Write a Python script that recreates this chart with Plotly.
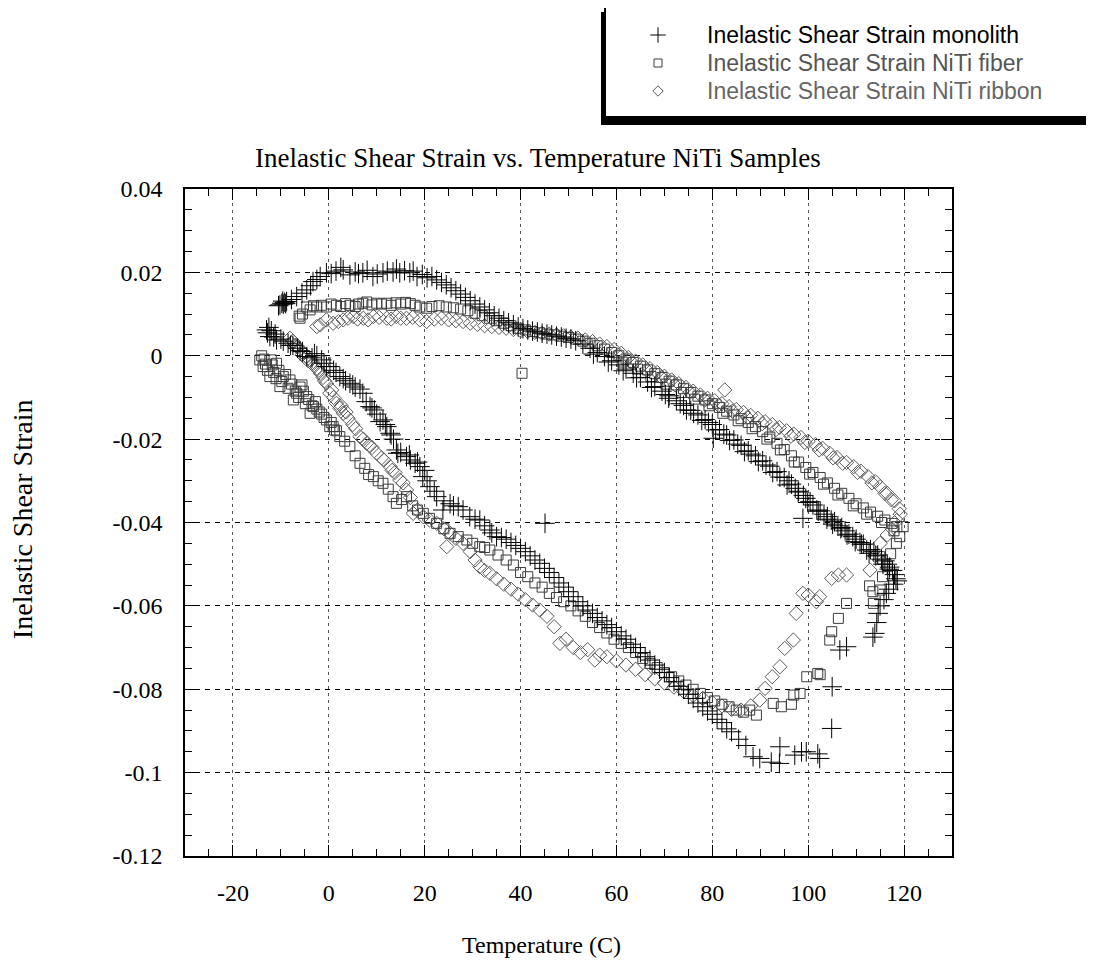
import plotly.graph_objects as go

# ---------------- data ----------------
x_tick_vals = [-20, 0, 20, 40, 60, 80, 100, 120]
x_tick_text = ["-20", "0", "20", "40", "60", "80", "100", "120"]
y_tick_vals = [0.04, 0.02, 0.0, -0.02, -0.04, -0.06, -0.08, -0.1, -0.12]
y_tick_text = ["0.04", "0.02", "0", "-0.02", "-0.04", "-0.06", "-0.08", "-0.1", "-0.12"]

series_names = ["Inelastic Shear Strain monolith",
                "Inelastic Shear Strain NiTi fiber",
                "Inelastic Shear Strain NiTi ribbon"]

# monolith (+)
mono_upper_x = [-10.5, -10.2, -9.8, -9.6, -9.5, -9.2, -9.0, -8.8,
                -7.8, -6.7, -5.6, -4.6, -3.8, -3.3, -2.5, -1.8, -0.5,
                0.5, 1.5, 2.5, 3.0, 4.4, 5.5, 6.2, 7.1, 8.0, 9.2,
                10.1, 11.3, 12.2, 13.4, 14.1, 14.8, 15.8, 16.9, 17.6, 18.4, 19.5,
                20.5, 21.5, 22.5, 23.5, 24.5, 25.5, 26.5, 27.5, 28.5, 29.5, 30.5,
                31.5, 32.5, 33.5, 34.5, 35.5, 36.5, 37.5, 38.5, 39.5, 40.5,
                41.5, 42.5, 43.5, 44.5, 45.5, 46.5, 47.5, 48.5, 49.5, 50.5]
mono_upper_y = [0.0120, 0.0122, 0.0126, 0.0131, 0.0124, 0.0128, 0.0125, 0.0130,
                0.0135, 0.0142, 0.0150, 0.0158, 0.0168, 0.0178, 0.0183, 0.0190, 0.0199,
                0.0197, 0.0203, 0.0212, 0.0206, 0.0194, 0.0201, 0.0197, 0.0199, 0.0205, 0.0190,
                0.0196, 0.0199, 0.0203, 0.0201, 0.0208, 0.0199, 0.0204, 0.0199, 0.0203, 0.0190, 0.0195,
                0.0187, 0.0190, 0.0182, 0.0176, 0.0170, 0.0163, 0.0156, 0.0148, 0.0140, 0.0132, 0.0124,
                0.0117, 0.0110, 0.0103, 0.0096, 0.0090, 0.0084, 0.0079, 0.0074, 0.0069, 0.0065,
                0.0062, 0.0059, 0.0057, 0.0054, 0.0052, 0.0050, 0.0047, 0.0045, 0.0042, 0.0040]

mono_mid_x = [51.5, 53, 54.5, 56, 57.5, 59, 60.5, 62, 63.5, 65, 66.5, 68, 69.5, 71,
              72.5, 74, 75.5, 77, 78.5, 80, 81.5, 83, 84.5, 86, 87.5, 89, 90.5, 92,
              93.5, 95, 96.5, 98, 99.5, 101, 102.5, 104, 105.5, 107, 108.5, 110,
              111.5, 113, 114.5, 116, 117, 118]
mono_mid_y = [0.0036, 0.0028, 0.0018, 0.0008, -0.0002, -0.0012, -0.0022, -0.0032, -0.0042,
              -0.0052, -0.0063, -0.0074, -0.0085, -0.0096, -0.0108, -0.0119, -0.0131, -0.0142,
              -0.0153, -0.0165, -0.0177, -0.0190, -0.0202, -0.0215, -0.0228, -0.0240, -0.0252,
              -0.0265, -0.0278, -0.0292, -0.0308, -0.0325, -0.0342, -0.0358, -0.0372, -0.0386,
              -0.0398, -0.0412, -0.0428, -0.0440, -0.0452, -0.0465, -0.0478, -0.0492, -0.0507,
              -0.0525]

mono_dense_x = [70.2, 73.3, 76.1, 79.2, 82.4, 85.3, 88.1, 91.2, 94.1, 96, 97.3, 99, 100.4,
                101.8, 103.3, 104.8, 106.2, 107.7, 109.3, 110.8, 112.2, 113.7, 115.3, 116.5, 117.6]
mono_dense_y = [-0.0093, -0.0115, -0.0138, -0.0160, -0.0188, -0.0212, -0.0236, -0.0262,
                -0.0291, -0.0300, -0.0318, -0.0335, -0.0350, -0.0370, -0.0380, -0.0394,
                -0.0408, -0.0420, -0.0434, -0.0448, -0.0466, -0.0470, -0.0488, -0.0500, -0.0515]

mono_band2_x = [55.2, 58.3, 61.4, 64.2, 67.3, 70.9, 74.6, 77.8, 80.7, 83.6, 86.7, 89.6, 92.6, 95.6,
                97.9, 99.9, 102.1, 103.9, 105.1, 106.8, 108.1, 109.8, 111.1, 112.7, 114.1, 115.6,
                116.9, 118.6]
mono_band2_y = [0.0004, -0.0015, -0.0036, -0.0053, -0.0076, -0.0102, -0.0130, -0.0155, -0.0178,
                -0.0203, -0.0230, -0.0254, -0.0280, -0.0310, -0.0327, -0.0352, -0.0373, -0.0392,
                -0.0404, -0.0415, -0.0430, -0.0446, -0.0452, -0.0474, -0.0480, -0.0500, -0.0512,
                -0.0540]

mono_turn_x = [118.3, 117.8, 116.8, 116.3, 115.8, 115.0, 114.6, 114.3, 113.5, 113.9,
               108, 106.6, 105, 104.9, 102.4, 102, 99.6, 98.6, 97.2, 94.1, 94, 92.3,
               89.9, 88.5, 98.9, 80.2]
mono_turn_y = [-0.0535, -0.0548, -0.0560, -0.0570, -0.0585, -0.0600, -0.0618, -0.0640,
               -0.0675, -0.0666, -0.0698, -0.0706, -0.0794, -0.0894, -0.0966, -0.0955,
               -0.0950, -0.0950, -0.0958, -0.0938, -0.0978, -0.0975, -0.0966, -0.0962,
               -0.0390, -0.0198]

mono_lower_x = [87, 85.5, 84, 83, 82, 81, 80, 79, 78, 77,
                76, 75, 74, 73, 72, 71, 70, 69, 68, 67, 66, 65, 64, 63, 62, 61, 60,
                59, 58, 57, 56, 55, 54, 53, 52, 51, 50, 49, 48, 47, 46, 45,
                45.1,
                44, 43, 42, 41, 40, 39, 38, 37, 36, 35, 34,
                33.6, 32.5, 31.5, 30.5, 29.4, 28, 27, 26, 25.3, 24,
                23.8, 22.5, 21.1, 20.5, 19.6, 19, 18, 17, 16.2, 15,
                14.4, 14.1, 13.5, 12.8, 12.1, 11.3, 10.7, 10, 9.5, 8.6,
                7.8, 7.1, 6.5, 5.5, 4.4, 3.5, 2.3, 1.5, 0.24, -0.5,
                -1.5, -2.5, -3.5, -4.6, -5.5, -6.5, -7.5, -8.5, -9.5, -10.9,
                -11.5, -12.3, -12.8, -13, -12.5]
mono_lower_y = [-0.0935, -0.0920, -0.0902, -0.0895, -0.0880, -0.0872, -0.0860, -0.0852, -0.0842, -0.0833,
                -0.0822, -0.0812, -0.0800, -0.0793, -0.0782, -0.0772, -0.0760, -0.0752, -0.0742,
                -0.0730, -0.0722, -0.0712, -0.0700, -0.0692, -0.0680, -0.0672, -0.0662,
                -0.0652, -0.0645, -0.0636, -0.0628, -0.0618, -0.0610, -0.0600, -0.0590, -0.0578,
                -0.0566, -0.0555, -0.0545, -0.0532, -0.0520, -0.0510,
                -0.0402,
                -0.0498, -0.0490, -0.0480, -0.0470, -0.0462, -0.0455, -0.0448, -0.0440, -0.0436,
                -0.0434, -0.0425,
                -0.0418, -0.0408, -0.0394, -0.0392, -0.0386, -0.0370, -0.0362, -0.0360, -0.0355, -0.0348,
                -0.0370, -0.0338, -0.0314, -0.0300, -0.0290, -0.0266, -0.0258, -0.0250, -0.0242, -0.0232,
                -0.0234, -0.0226, -0.0200, -0.0186, -0.0170, -0.0154, -0.0158, -0.0140, -0.0130, -0.0122,
                -0.0110, -0.0090, -0.0080, -0.0075, -0.0066, -0.0060, -0.0050, -0.0040, -0.0026, -0.0026,
                -0.0010, 0.0000, -0.0005, -0.0002, 0.0010, 0.0018, 0.0025, 0.0030, 0.0035, 0.0038,
                0.0045, 0.0046, 0.0055, 0.0062, 0.0068]

mono_left2_x = [-12.0, -11.2, -10.0, -8.0, -6.0, -3.0, -1.0, 1.0, 3.0, 5.0, 9.0, 11.8, 13.0,
                16.8, 18.5, 20.0, 22.0]
mono_left2_y = [0.0060, 0.0052, 0.0040, 0.0025, 0.0012, 0.0005, -0.0018, -0.0035, -0.0055,
                -0.0070, -0.0125, -0.0165, -0.0190, -0.0238, -0.0255, -0.0275, -0.0325]

# NiTi fiber (squares)
fiber_upper_x = [-6.2, -6, -5.5, -4.6, -3.9, -3.2, -2.5, -1.5, -0.5,
                 0.5, 1.6, 2.5, 3.5, 4.4, 5.5, 6.2, 7.1, 7.9, 9,
                 10, 11, 12.1, 13, 14, 15, 16, 17, 18, 19, 20.4,
                 21.5, 23, 24.5, 26, 27.5, 29, 30.5, 32, 33.5, 35, 36.5, 38, 39.5,
                 40.3,
                 41, 42.5, 44, 45.5, 47, 48.5, 50, 51.5, 53, 54.5, 56, 57.5, 59,
                 60.5, 62, 63.5, 65, 66.5, 68, 69.5, 71, 72.5, 74, 75.5, 77, 78.5,
                 80, 81.5, 83, 84.5, 86, 87.5, 89, 90.5, 92, 93.5, 95, 96.5, 98,
                 99.5, 101, 102.5, 104, 105.5, 107, 108.5, 110, 111.5, 113, 114.5, 116, 117.5,
                 118.5, 119.8, 119.1, 118.4]
fiber_upper_y = [0.0095, 0.0090, 0.0100, 0.0117, 0.0110, 0.0120, 0.0117, 0.0121, 0.0117,
                 0.0124, 0.0121, 0.0118, 0.0125, 0.0121, 0.0118, 0.0124, 0.0126, 0.0129, 0.0122,
                 0.0126, 0.0124, 0.0126, 0.0121, 0.0127, 0.0124, 0.0128, 0.0125, 0.0121, 0.0117, 0.0114,
                 0.0118, 0.0120, 0.0117, 0.0115, 0.0112, 0.0108, 0.0102, 0.0096, 0.0090, 0.0084,
                 0.0078, 0.0072, 0.0066,
                 -0.0042,
                 0.0062, 0.0058, 0.0055, 0.0052, 0.0050, 0.0047, 0.0044, 0.0040, 0.0035, 0.0030,
                 0.0024, 0.0016, 0.0008,
                 0.0000, -0.0008, -0.0016, -0.0025, -0.0034, -0.0043, -0.0052, -0.0061, -0.0070,
                 -0.0079, -0.0088, -0.0097, -0.0106,
                 -0.0115, -0.0124, -0.0133, -0.0142, -0.0151, -0.0160, -0.0170, -0.0182, -0.0195,
                 -0.0210, -0.0225, -0.0240, -0.0255,
                 -0.0268, -0.0280, -0.0292, -0.0305, -0.0318, -0.0330, -0.0342, -0.0355, -0.0365,
                 -0.0375, -0.0385, -0.0394, -0.0402,
                 -0.0410, -0.0410, -0.0434, -0.0450]

fiber_band2_x = [61.2, 64.4, 67.2, 70.3, 73.6, 76.3, 79.3, 82.2, 85.4, 88.3, 91.4, 94.2, 97.1,
                 100.3, 103.2, 106.2, 109.4, 112.2, 115.3, 117.9]
fiber_band2_y = [-0.0015, -0.0032, -0.0050, -0.0068, -0.0088, -0.0104, -0.0120, -0.0138, -0.0156,
                 -0.0175, -0.0200, -0.0226, -0.0255, -0.0284, -0.0308, -0.0334, -0.0360, -0.0380,
                 -0.0400, -0.0420]

fiber_turn_x = [117.2, 116.5, 115.5, 115, 113.5, 113.6, 112.8, 108, 106.3, 104.9, 104.5,
                102, 102.5, 99.7, 98.3, 97, 96.5, 94.4, 92.7, 89.2, 87.8]
fiber_turn_y = [-0.0475, -0.0505, -0.0530, -0.0562, -0.0566, -0.0594, -0.0552, -0.0594,
                -0.0630, -0.0662, -0.0682, -0.0762, -0.0765, -0.0770, -0.0810, -0.0814,
                -0.0836, -0.0842, -0.0834, -0.0862, -0.0850]

fiber_lower_x = [86.5, 85, 83.5, 82, 80.5, 79, 77.5, 76, 74.5, 73, 71.5, 70, 68.5, 67, 65.5, 64,
                 62.5, 61, 59.5, 58, 56.5, 55, 53.5, 52, 50.5, 49, 47.5, 46, 44.5, 43, 41.5, 40,
                 38.5, 37, 35.3, 33.6, 32.5, 31.5, 30, 28.8, 27, 25.3,
                 24, 22.5, 21, 19.7, 18.5, 17.5, 16.2, 15.2, 14.1, 13.4,
                 12.4, 11.3, 10.3, 9.3, 8.3, 7.5, 6.5, 5.5, 4.4, 3.3,
                 2.3, 1.6, 0.9, 0.2, -0.5, -1.5, -2.5, -3.2, -3.9, -4.6,
                 -5.3, -6, -6.7, -7.4, -8.1, -9.5, -10.2, -10.9, -11.5, -12,
                 -12.3, -13.2, -13.7, -14, -14.4]
fiber_lower_y = [-0.0855, -0.0850, -0.0842, -0.0836, -0.0828, -0.0820, -0.0810, -0.0800,
                 -0.0790, -0.0780, -0.0770, -0.0760, -0.0748, -0.0738, -0.0726, -0.0712,
                 -0.0700, -0.0690, -0.0680, -0.0665, -0.0652, -0.0640, -0.0625, -0.0612,
                 -0.0600, -0.0590, -0.0580, -0.0570, -0.0555, -0.0545, -0.0530, -0.0520,
                 -0.0502, -0.0490, -0.0478, -0.0466, -0.0460, -0.0458, -0.0450, -0.0442, -0.0434, -0.0426,
                 -0.0415, -0.0402, -0.0390, -0.0378, -0.0370, -0.0360, -0.0338, -0.0345, -0.0354, -0.0338,
                 -0.0320, -0.0306, -0.0300, -0.0290, -0.0285, -0.0270, -0.0258, -0.0240, -0.0218, -0.0205,
                 -0.0194, -0.0180, -0.0170, -0.0170, -0.0154, -0.0140, -0.0128, -0.0122, -0.0138, -0.0098,
                 -0.0085, -0.0075, -0.0090, -0.0106, -0.0058, -0.0050, -0.0074, -0.0018, -0.0040, -0.0010,
                 -0.0050, -0.0020, -0.0026, 0.0000, -0.0010]

fiber_left2_x = [-13.5, -12.8, -11.8, -11.0, -10.4, -9.8, -9.0, -8.5, -7.8, -7.0, -6.3, -5.6,
                 -4.9, -4.2, -3.5, -2.8, -2.0, -1.0, 0.5, 1.2]
fiber_left2_y = [-0.0008, -0.0035, -0.0022, -0.0055, -0.0035, -0.0062, -0.0045, -0.0078, -0.0068,
                 -0.0085, -0.0100, -0.0070, -0.0115, -0.0105, -0.0120, -0.0110, -0.0135, -0.0148,
                 -0.0160, -0.0178]

# NiTi ribbon (diamonds)
ribbon_upper_x = [-2.5, -1.8, -0.5, 0.9, 2, 3, 4, 5.1, 6, 7.2, 8.2, 9.3,
                  10.5, 12.1, 13, 14.1, 15, 16.2, 17.5, 19, 20.4, 22, 23.5, 25, 26.5, 28,
                  29.5, 31, 32.5, 34, 35.5, 37, 38.5, 40, 41.5, 43, 44.5, 46, 47.5, 49,
                  50.5, 52, 53.5, 55, 56.5, 58, 59.5, 61, 62.5, 64, 65.5, 67, 68.5, 70,
                  71.5, 73, 74.5, 76, 77.5, 79, 80.5, 82, 82.6,
                  83.5, 85, 86.5, 88, 89.5, 91, 92.5, 94, 95.5, 97, 98.5, 100,
                  101.5, 103, 104.5, 106, 108, 109.5, 111, 112.5, 114, 115, 116.5, 118, 119]
ribbon_upper_y = [0.0070, 0.0074, 0.0086, 0.0078, 0.0082, 0.0086, 0.0090, 0.0094, 0.0088,
                  0.0090, 0.0086, 0.0094,
                  0.0092, 0.0090, 0.0088, 0.0094, 0.0090, 0.0090, 0.0092, 0.0086, 0.0082,
                  0.0088, 0.0090, 0.0086, 0.0084, 0.0082,
                  0.0078, 0.0075, 0.0072, 0.0070, 0.0068, 0.0066, 0.0063, 0.0060, 0.0058,
                  0.0056, 0.0054, 0.0052, 0.0050, 0.0048,
                  0.0045, 0.0042, 0.0038, 0.0034, 0.0028, 0.0022, 0.0015, 0.0006, -0.0004,
                  -0.0013, -0.0022, -0.0031, -0.0040, -0.0049,
                  -0.0058, -0.0067, -0.0076, -0.0085, -0.0094, -0.0102, -0.0108, -0.0115, -0.0082,
                  -0.0122, -0.0129, -0.0136, -0.0143, -0.0150, -0.0158, -0.0165, -0.0172,
                  -0.0180, -0.0188, -0.0196, -0.0205,
                  -0.0213, -0.0222, -0.0234, -0.0244, -0.0256, -0.0266, -0.0277, -0.0290,
                  -0.0302, -0.0314, -0.0330, -0.0348, -0.0367]

ribbon_band2_x = [60.3, 63.2, 66.3, 69.4, 72.2, 75.3, 78.4, 81.3, 84.2, 87.3, 90.4, 93.3, 96.4,
                  99.3, 102.3, 105.2, 107.2, 110.3, 113.3, 116, 117.3]
ribbon_band2_y = [0.0002, -0.0016, -0.0034, -0.0052, -0.0070, -0.0088, -0.0106, -0.0119, -0.0133,
                  -0.0148, -0.0163, -0.0177, -0.0193, -0.0208, -0.0226, -0.0245, -0.0258, -0.0280,
                  -0.0305, -0.0330, -0.0345]

ribbon_turn_x = [119.2, 118.5, 117.5, 116.5, 115, 114, 112.9, 108, 106.3, 104.9, 102.4,
                 101.7, 100, 98.9, 97.5, 96.9, 95.1, 94.1, 92.5, 91, 89.9]
ribbon_turn_y = [-0.0380, -0.0395, -0.0415, -0.0430, -0.0450, -0.0480, -0.0514, -0.0526,
                 -0.0526, -0.0534, -0.0578, -0.0590, -0.0574, -0.0570, -0.0618, -0.0682,
                 -0.0702, -0.0746, -0.0770, -0.0798, -0.0826]

ribbon_lower_x = [-8.1, -7.5, -7, -6, -5.3, -4.6, -4, -3.2, -2.5, -1.8,
                  -1.2, -0.5, 0.2, 1, 1.6, 2.3, 3, 4, 5, 6.5,
                  7.9, 9, 10, 11.5, 12.8, 13.8, 14.8, 16.2, 17, 17.6,
                  18.5, 19.7, 21, 22.5, 24, 24.6, 25.3, 26.5, 28, 29.5,
                  30.5, 31.5, 32.5, 33.6, 35, 36.5, 38, 39.5, 41, 42.5,
                  44, 45.5, 47, 48.2, 49.5, 51, 52.5, 54, 55.5, 56.5,
                  58, 60, 62, 64, 66, 68, 70, 72, 74, 76,
                  78, 80, 82, 84, 86, 88]
ribbon_lower_y = [0.0042, 0.0035, 0.0025, 0.0014, 0.0006, -0.0002, -0.0010, -0.0018, -0.0030, -0.0042,
                  -0.0052, -0.0066, -0.0090, -0.0100, -0.0114, -0.0126, -0.0138, -0.0150, -0.0165, -0.0194,
                  -0.0210, -0.0220, -0.0234, -0.0250, -0.0266, -0.0280, -0.0298, -0.0322, -0.0340, -0.0378,
                  -0.0370, -0.0386, -0.0394, -0.0402, -0.0415, -0.0458, -0.0426, -0.0438, -0.0450, -0.0470,
                  -0.0490, -0.0506, -0.0515, -0.0522, -0.0535, -0.0548, -0.0560, -0.0572, -0.0585, -0.0598,
                  -0.0610, -0.0625, -0.0650, -0.0690, -0.0680, -0.0700, -0.0712, -0.0705, -0.0730, -0.0718,
                  -0.0722, -0.0732, -0.0742, -0.0752, -0.0765, -0.0775, -0.0785, -0.0795, -0.0805, -0.0815,
                  -0.0822, -0.0832, -0.0840, -0.0848, -0.0850, -0.0840]

ribbon_left2_x = [-7.8, -6.5, -5.6, -4.3, -3.0, -2.1, -0.9, 0.6, 2.6, 3.6, 5.6, 7.2, 8.4, 11.0,
                  13.2, 15.5]
ribbon_left2_y = [0.0030, 0.0022, 0.0002, -0.0012, -0.0025, -0.0035, -0.0060, -0.0082, -0.0120,
                  -0.0135, -0.0175, -0.0200, -0.0215, -0.0245, -0.0275, -0.0305]

mono_x = mono_upper_x + mono_mid_x + mono_dense_x + mono_band2_x + mono_turn_x + mono_lower_x + mono_left2_x
mono_y = mono_upper_y + mono_mid_y + mono_dense_y + mono_band2_y + mono_turn_y + mono_lower_y + mono_left2_y
fiber_x = fiber_upper_x + fiber_band2_x + fiber_turn_x + fiber_lower_x + fiber_left2_x
fiber_y = fiber_upper_y + fiber_band2_y + fiber_turn_y + fiber_lower_y + fiber_left2_y
ribbon_x = ribbon_upper_x + ribbon_band2_x + ribbon_turn_x + ribbon_lower_x + ribbon_left2_x
ribbon_y = ribbon_upper_y + ribbon_band2_y + ribbon_turn_y + ribbon_lower_y + ribbon_left2_y

# ---------------- layout geometry (pixels in the screenshot) ----------------
W, H = 1094, 974
OFF = 8  # page body margin
PL, PR, PT, PB = 185, 952, 189, 856


def fx(p):
    return (p - OFF) / W


def fy(p):
    return 1 - (p - OFF) / H


SERIF = "Liberation Serif, Times New Roman, serif"
SANS = "Liberation Sans, Arial, sans-serif"

c_mono, c_fiber, c_ribbon = "#000000", "#3c3c3c", "#5a5a5a"
sym = ["cross-thin-open", "square-open", "diamond-open"]
cols = [c_mono, c_fiber, c_ribbon]

fig = go.Figure()

fig.add_trace(go.Scatter(x=ribbon_x, y=ribbon_y, mode="markers", name=series_names[2],
                         marker=dict(symbol=sym[2], size=11, color=c_ribbon,
                                     line=dict(color=c_ribbon, width=1)),
                         showlegend=False))
fig.add_trace(go.Scatter(x=fiber_x, y=fiber_y, mode="markers", name=series_names[1],
                         marker=dict(symbol=sym[1], size=10, color=c_fiber,
                                     line=dict(color=c_fiber, width=1)),
                         showlegend=False))
fig.add_trace(go.Scatter(x=mono_x, y=mono_y, mode="markers", name=series_names[0],
                         marker=dict(symbol=sym[0], size=14, color=c_mono,
                                     line=dict(color=c_mono, width=1)),
                         showlegend=False))

# legend keys on a hidden helper axis
legend_rows = [3, 2, 1]
for i in range(3):
    fig.add_trace(go.Scatter(x=[0.5], y=[legend_rows[i]], mode="markers", xaxis="x2", yaxis="y2",
                             marker=dict(symbol=sym[i], size=[11, 8, 8][i], color=cols[i],
                                         line=dict(color=cols[i], width=1)),
                             showlegend=False, hoverinfo="skip"))

axis_common = dict(
    showline=True, linecolor="black", linewidth=1.5, mirror="ticks",
    ticks="inside", ticklen=11, tickwidth=1, tickcolor="black",
    showgrid=True, gridwidth=1, zeroline=False,
    tickfont=dict(family=SERIF, size=24, color="black"),
)

fig.update_layout(
    width=W, height=H, template="none",
    margin=dict(l=0, r=0, t=0, b=0),
    paper_bgcolor="white", plot_bgcolor="white",
    showlegend=False,
    xaxis=dict(domain=[fx(PL), fx(PR)], range=[-30, 130], anchor="y",
               tickmode="array", tickvals=x_tick_vals, ticktext=x_tick_text,
               gridcolor="#555555", griddash="3px,4px", ticklabelstandoff=14,
               minor=dict(tickmode="linear", tick0=0, dtick=5, ticks="inside", ticklen=7,
                          tickwidth=1, tickcolor="black", showgrid=False),
               **axis_common),
    yaxis=dict(domain=[fy(PB), fy(PT)], range=[-0.12, 0.04], anchor="x",
               tickmode="array", tickvals=y_tick_vals, ticktext=y_tick_text,
               gridcolor="black", griddash="5px,5px", ticklabelstandoff=16,
               minor=dict(tickmode="linear", tick0=0, dtick=0.005, ticks="inside", ticklen=7,
                          tickwidth=1, tickcolor="black", showgrid=False),
               **axis_common),
    xaxis2=dict(domain=[fx(640), fx(676)], range=[0, 1], anchor="y2", visible=False),
    yaxis2=dict(domain=[fy(105), fy(21)], range=[0.5, 3.5], anchor="x2", visible=False),
)

# legend box with shadow
fig.add_shape(type="rect", xref="paper", yref="paper", layer="below",
              x0=fx(601), x1=fx(1110), y0=fy(125), y1=fy(12),
              fillcolor="black", line=dict(width=0))
fig.add_shape(type="rect", xref="paper", yref="paper", layer="below",
              x0=fx(605), x1=fx(1110), y0=fy(117), y1=fy(5),
              fillcolor="white", line=dict(color="black", width=2))

legend_colors = ["#000000", "#555555", "#666666"]
for i in range(3):
    fig.add_annotation(x=fx(705), xref="paper", y=legend_rows[i], yref="y2",
                       text=series_names[i], showarrow=False, xanchor="left", yanchor="middle",
                       font=dict(family=SANS, size=23, color=legend_colors[i]))

fig.add_annotation(x=fx(538), y=fy(158), xref="paper", yref="paper",
                   text="Inelastic Shear Strain vs. Temperature NiTi Samples",
                   showarrow=False, xanchor="center", yanchor="middle",
                   font=dict(family=SERIF, size=27, color="black"))
fig.add_annotation(x=fx(541), y=fy(945), xref="paper", yref="paper",
                   text="Temperature (C)", showarrow=False, xanchor="center", yanchor="middle",
                   font=dict(family=SERIF, size=24, color="black"))
fig.add_annotation(x=fx(22), y=fy(520), xref="paper", yref="paper",
                   text="Inelastic Shear Strain", showarrow=False, textangle=-90,
                   xanchor="center", yanchor="middle",
                   font=dict(family=SERIF, size=28, color="black"))

fig.write_html("out.html")
